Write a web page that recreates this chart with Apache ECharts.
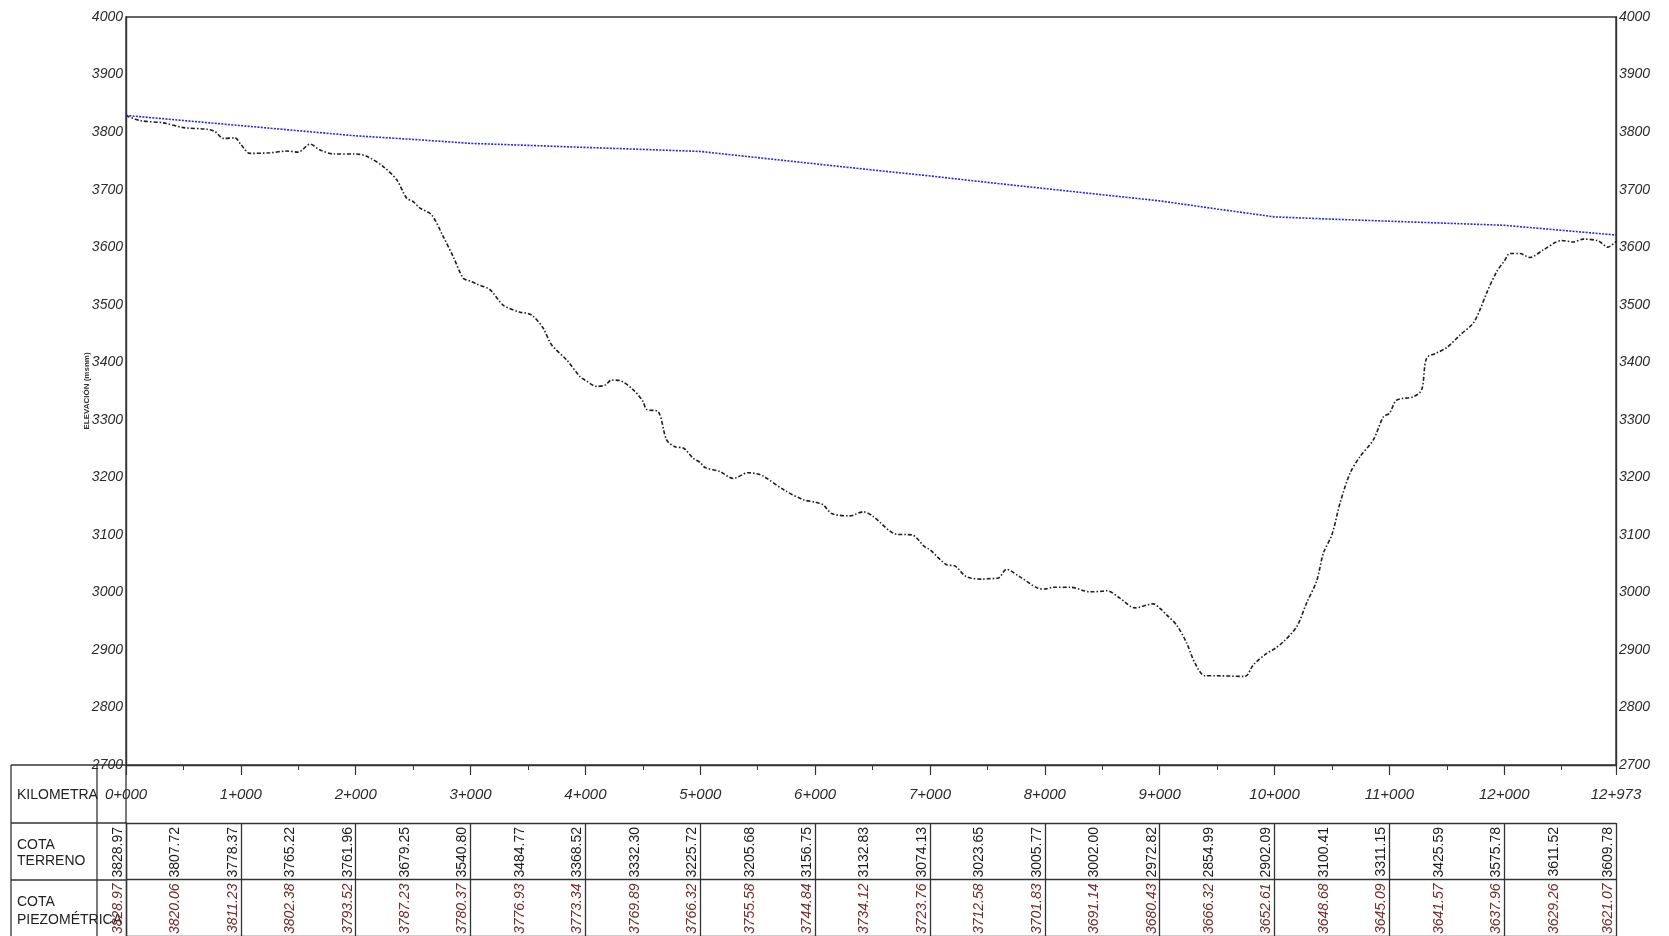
<!DOCTYPE html>
<html><head><meta charset="utf-8">
<script src="https://cdn.jsdelivr.net/npm/echarts@6/dist/echarts.min.js"></script>
<style>html,body{margin:0;padding:0;background:#fff}#chart{width:1669px;height:936px}</style>
</head><body><div id="chart"></div>
<script>
// ---- Table (every 500 m) ----
const tableStations = [0,500,1000,1500,2000,2500,3000,3500,4000,4500,5000,5500,6000,6500,7000,7500,8000,8500,9000,9500,10000,10500,11000,11500,12000,12500,12973];
const cotaTerreno = [3828.97,3807.72,3778.37,3765.22,3761.96,3679.25,3540.80,3484.77,3368.52,3332.30,3225.72,3205.68,3156.75,3132.83,3074.13,3023.65,3005.77,3002.00,2972.82,2854.99,2902.09,3100.41,3311.15,3425.59,3575.78,3611.52,3609.78];
const cotaPiezometrica = [3828.97,3820.06,3811.23,3802.38,3793.52,3787.23,3780.37,3776.93,3773.34,3769.89,3766.32,3755.58,3744.84,3734.12,3723.76,3712.58,3701.83,3691.14,3680.43,3666.32,3652.61,3648.68,3645.09,3641.57,3637.96,3629.26,3621.07];
// ---- Terrain profile ----
const profileStations = [0,122,325,500,702,775,848,949,1000,1080,1254,1399,1500,1602,1689,1805,2000,2095,2240,2357,2444,2500,2560,2661,2763,2850,2937,3000,3053,3169,3285,3430,3500,3546,3633,3706,3837,3953,4000,4098,4170,4229,4301,4417,4500,4533,4634,4707,4780,4852,4939,5000,5041,5171,5287,5418,5500,5549,5737,5897,6000,6071,6144,6303,6419,6500,6710,6840,6956,7000,7145,7217,7319,7464,7500,7595,7667,7783,7943,8000,8073,8219,8393,8500,8538,8654,8785,8944,9000,9060,9148,9235,9307,9394,9500,9742,9815,9931,10000,10076,10192,10280,10367,10425,10500,10570,10657,10744,10860,10947,11000,11063,11208,11281,11324,11411,11500,11614,11730,11788,11846,11933,12000,12049,12136,12223,12339,12500,12600,12687,12818,12902,12973];
const profileElevations = [3828.97,3820,3816,3807.72,3805,3801,3789,3790,3778.37,3763,3764,3767,3765.22,3779,3769,3762,3761.96,3758,3740,3717,3685,3679.25,3668,3656,3618,3583,3546,3540.80,3536,3526,3499,3487,3484.77,3480,3459,3430,3404,3375,3368.52,3358,3360,3369,3368,3352,3332.30,3318,3314,3265,3253,3251,3233,3225.72,3217,3210,3198,3208,3205.68,3202,3177,3161,3156.75,3152,3137,3133,3140,3132.83,3101,3100,3079,3074.13,3048,3046,3027,3023,3023.65,3025,3040,3027,3007,3005.77,3009,3009,3001,3002.00,3003,2990,2973,2980,2972.82,2961,2943,2912,2877,2855,2854.99,2854,2874,2894,2902.09,2914,2940,2982,3020,3068,3100.41,3155,3207,3236,3265,3305,3311.15,3334,3340,3352,3407,3416,3425.59,3447,3468,3491,3520,3557,3575.78,3589,3589,3582,3595,3611.52,3609,3614,3611,3600,3609.78];
const rowLabels = [['KILOMETRA'], ['COTA','TERRENO'], ['COTA','PIEZOMÉTRICA']];
const yAxisName = 'ELEVACIÓN (msnm)';

const kmFormat = v => Math.floor(v/1000) + '+' + String(Math.round(v%1000)).padStart(3,'0');
const elevFormat = v => String(v);
const axisFont = {fontFamily:'Liberation Sans', fontStyle:'italic', fontSize:14, color:'#2a2a2a'};

const chart = echarts.init(document.getElementById('chart'), null, {renderer:'canvas'});

function cellText(color, italic){
  return function(params, api){
    const p = api.coord([api.value(0), api.value(1)]);
    return {type:'text', x:p[0]-1, y:p[1]+4, rotation:Math.PI/2,
      style:{text: api.value(2).toFixed(2), align:'right', verticalAlign:'bottom', fill:color,
        font:(italic?'italic ':'') + '14px "Liberation Sans"'}};
  };
}

const lineColor = '#333';
const frame = [
  [11,765,126,765],[11,823,126,823],[11,880,126,880],
  [11,765,11,936],[97,765,97,936],[126,765,126,823]
].map(l => ({type:'line', shape:{x1:l[0],y1:l[1],x2:l[2],y2:l[3]}, style:{stroke:lineColor, lineWidth:1.3}, silent:true}));
const labelY = [[795],[845,861],[902,920]];
const labelTexts = [];
rowLabels.forEach((lines, r) => lines.forEach((t, k) => labelTexts.push({type:'text', x:17, y:labelY[r][k],
  style:{text:t, fill:'#222', font:'14px "Liberation Sans"', verticalAlign:'middle'}, silent:true})));

chart.setOption({
  animation:false,
  backgroundColor:'#fff',
  grid:[
    {left:126, right:53, top:17, height:748, show:true, borderColor:lineColor, borderWidth:1.4, backgroundColor:'transparent'},
    {left:126, right:53, top:823, height:114}
  ],
  xAxis:[
    {gridIndex:0, type:'value', min:0, max:12973, interval:1000, position:'bottom',
     axisLine:{show:true, lineStyle:{color:lineColor, width:1.4}},
     axisTick:{show:true, length:10, inside:false, lineStyle:{color:lineColor, width:1.2}},
     minorTick:{show:true, splitNumber:2, length:5, lineStyle:{color:lineColor, width:1}},
     splitLine:{show:false}, minorSplitLine:{show:false},
     axisLabel:Object.assign({margin:22, formatter:kmFormat, showMinLabel:true, showMaxLabel:true}, axisFont, {fontSize:15})},
    {gridIndex:1, type:'value', min:0, max:12973, interval:1000,
     axisLine:{show:false}, axisTick:{show:false}, axisLabel:{show:false},
     splitLine:{show:true, showMinLine:true, showMaxLine:true, lineStyle:{color:lineColor, width:1.3}}}
  ],
  yAxis:[
    {gridIndex:0, type:'value', min:2700, max:4000, interval:100, position:'left',
     axisLine:{show:true, lineStyle:{color:lineColor, width:1.4}}, axisTick:{show:false}, splitLine:{show:false},
     axisLabel:Object.assign({margin:3, formatter:elevFormat}, axisFont),
     name:yAxisName, nameLocation:'middle', nameRotate:90, nameGap:35, nameMoveOverlap:false,
     nameTextStyle:{fontFamily:'Liberation Sans', fontSize:8, fontWeight:'bold', color:'#333'}},
    {gridIndex:0, type:'value', min:2700, max:4000, interval:100, position:'right',
     axisLine:{show:true, lineStyle:{color:lineColor, width:1.4}}, axisTick:{show:false}, splitLine:{show:false},
     axisLabel:Object.assign({margin:3, formatter:elevFormat}, axisFont)},
    {gridIndex:1, type:'value', min:0, max:2, interval:1, inverse:true, position:'left',
     axisLine:{show:true, lineStyle:{color:lineColor, width:1.4}}, axisTick:{show:false}, axisLabel:{show:false},
     splitLine:{show:true, lineStyle:{color:lineColor, width:1.3}}}
  ],
  series:[
    {name:'Terreno', type:'line', xAxisIndex:0, yAxisIndex:0, symbol:'none', smooth:0.3,
     data:profileStations.map((s,i)=>[s, profileElevations[i]]),
     lineStyle:{color:'#1e1e1e', width:1.6, type:[4,2,1.5,2]}},
    {name:'Piezométrica', type:'line', xAxisIndex:0, yAxisIndex:0, symbol:'none',
     data:tableStations.map((s,i)=>[s, cotaPiezometrica[i]]),
     lineStyle:{color:'#2626e6', width:1.6, type:[2,1.3]}},
    {name:'tablaTerreno', type:'custom', xAxisIndex:1, yAxisIndex:2, clip:false,
     data:tableStations.map((s,i)=>[s, 0, cotaTerreno[i]]), renderItem:cellText('#1a1a1a', false)},
    {name:'tablaPiezo', type:'custom', xAxisIndex:1, yAxisIndex:2, clip:false,
     data:tableStations.map((s,i)=>[s, 1, cotaPiezometrica[i]]), renderItem:cellText('#6e2c2c', true)}
  ],
  graphic: frame.concat(labelTexts)
});
</script></body></html>
